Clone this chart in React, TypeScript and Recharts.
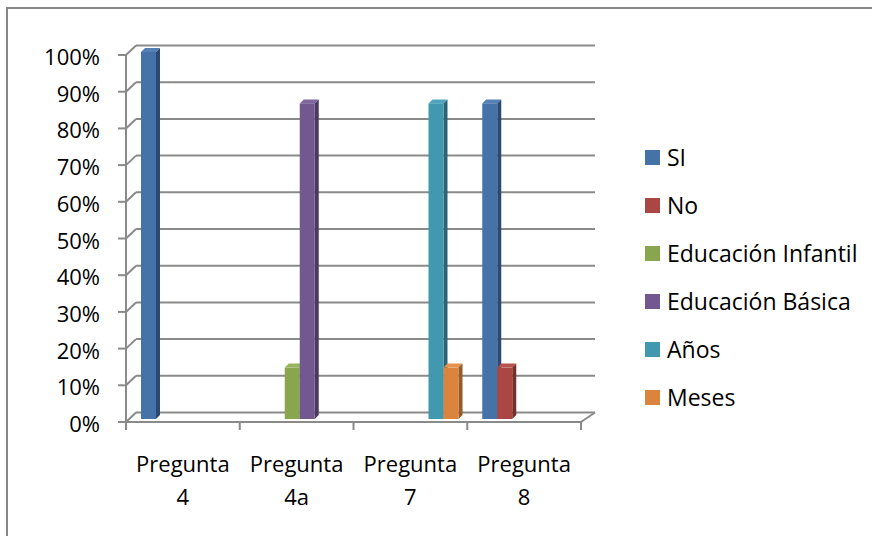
import { BarChart, Bar, XAxis, YAxis, CartesianGrid, Legend } from 'recharts'

const categories = ['Pregunta 4', 'Pregunta 4a', 'Pregunta 7', 'Pregunta 8']
const si = [1, null, null, 0.86]
const no = [null, null, null, 0.14]
const infantil = [null, 0.14, null, null]
const basica = [null, 0.86, null, null]
const anos = [null, null, 0.86, null]
const meses = [null, null, 0.14, null]
const yTicks = [0, 0.1, 0.2, 0.3, 0.4, 0.5, 0.6, 0.7, 0.8, 0.9, 1]

const series = [
  { key: 'si', name: 'SI', color: '#4572A7', side: '#2C4A6F', top: '#5580B6' },
  { key: 'no', name: 'No', color: '#AA4643', side: '#74302D', top: '#B9524F' },
  { key: 'infantil', name: 'Educación Infantil', color: '#89A54E', side: '#5E7235', top: '#97B35B' },
  { key: 'basica', name: 'Educación Básica', color: '#71588F', side: '#4A3A5F', top: '#7F669D' },
  { key: 'anos', name: 'Años', color: '#4198AF', side: '#2A6575', top: '#4EA6BD' },
  { key: 'meses', name: 'Meses', color: '#DB843D', side: '#985A28', top: '#E6914C' },
]

const data = categories.map((category, i) => ({
  category,
  si: si[i],
  no: no[i],
  infantil: infantil[i],
  basica: basica[i],
  anos: anos[i],
  meses: meses[i],
}))

const FONT = '"Open Sans", sans-serif'
const GRID = '#8a8a8a'
const PLOT_BOTTOM = 422
// 3D look: back wall sits up/right of the front axes
const WALL_DX = 10
const WALL_DX_RIGHT = 14
const WALL_DY = 9.5
const BAR_DX = 4
const BAR_DY = -3
const DEPTH = 4

const pct = (v: number) => `${Math.round(v * 100)}%`

function renderGridLine(p: any) {
  const { x1, x2, y1, index } = p
  const by = y1 - WALL_DY
  const floor = Math.abs(y1 - PLOT_BOTTOM) < 1
  const step = (x2 - x1) / categories.length
  return (
    <g key={`grid-${index}`}>
      <line x1={x1} y1={y1} x2={x1 + WALL_DX} y2={by} stroke={GRID} strokeWidth={2} />
      <line x1={x1 + WALL_DX} y1={by} x2={x2 + WALL_DX_RIGHT} y2={by} stroke={GRID} strokeWidth={2} />
      {floor && <line x1={x2} y1={y1} x2={x2 + WALL_DX_RIGHT} y2={by} stroke={GRID} strokeWidth={2} />}
      {floor &&
        [...categories, ''].map((_, i) => (
          <line key={i} x1={x1 + i * step} y1={y1} x2={x1 + i * step} y2={y1 + 8} stroke={GRID} strokeWidth={2} />
        ))}
    </g>
  )
}

function makeShape(s: typeof series[number]) {
  return (props: any) => {
    const { x, y, width, height } = props
    if (height == null || height <= 0 || width == null) return <g />
    const fx = x + BAR_DX
    const fy = y + BAR_DY
    return (
      <g>
        <polygon
          points={`${fx},${fy} ${fx + DEPTH},${fy - DEPTH} ${fx + width + DEPTH},${fy - DEPTH} ${fx + width},${fy}`}
          fill={s.top}
        />
        <polygon
          points={`${fx + width},${fy} ${fx + width + DEPTH},${fy - DEPTH} ${fx + width + DEPTH},${fy + height - DEPTH} ${fx + width},${fy + height}`}
          fill={s.side}
        />
        <rect x={fx} y={fy} width={width} height={height} fill={s.color} />
      </g>
    )
  }
}

function YTick({ x, y, payload }: any) {
  return (
    <text x={x} y={y} dy={10} textAnchor="end" fontFamily={FONT} fontSize={22} fill="#000">
      {pct(payload.value)}
    </text>
  )
}

function XTick({ x, y, payload }: any) {
  const label = String(payload.value)
  const cut = label.lastIndexOf(' ')
  return (
    <g>
      <text x={x} y={y + 50} textAnchor="middle" fontFamily={FONT} fontSize={22} fill="#000">
        {label.slice(0, cut)}
      </text>
      <text x={x} y={y + 83} textAnchor="middle" fontFamily={FONT} fontSize={22} fill="#000">
        {label.slice(cut + 1)}
      </text>
    </g>
  )
}

function LegendContent() {
  return (
    <div style={{ fontFamily: FONT, fontSize: 23, color: '#000' }}>
      {series.map(s => (
        <div key={s.key} style={{ height: 48, display: 'flex', alignItems: 'center' }}>
          <span style={{ width: 15, height: 15, background: s.color, marginRight: 7, flex: 'none' }} />
          <span style={{ whiteSpace: 'nowrap' }}>{s.name}</span>
        </div>
      ))}
    </div>
  )
}

export default function App() {
  return (
    <div style={{ position: 'absolute', left: 0, top: 0, width: 872, height: 536, overflow: 'hidden', background: '#fff' }}>
      <div style={{ position: 'absolute', left: 6, top: 7, width: 900, height: 600, border: '2px solid #878787' }} />
      <div style={{ position: 'absolute', left: 0, top: 0 }}>
        <BarChart
          width={872}
          height={536}
          data={data}
          margin={{ top: 55, right: 291, bottom: 0, left: 0 }}
          barCategoryGap={11}
          barGap={0}
        >
          <CartesianGrid vertical={false} horizontal={renderGridLine} />
          <XAxis
            dataKey="category"
            height={114}
            tickSize={0}
            tickMargin={0}
            tickLine={false}
            axisLine={{ stroke: GRID, strokeWidth: 2 }}
            tick={<XTick />}
            interval={0}
          />
          <YAxis
            width={126}
            domain={[0, 1]}
            ticks={yTicks}
            tickSize={8}
            tickMargin={18}
            axisLine={{ stroke: GRID, strokeWidth: 2 }}
            tickLine={{ stroke: GRID, strokeWidth: 2 }}
            tick={<YTick />}
            interval={0}
          />
          <Legend
            layout="vertical"
            align="center"
            verticalAlign="middle"
            wrapperStyle={{ left: 645, top: 133, width: 227, height: 288 }}
            content={<LegendContent />}
          />
          {series.map(s => (
            <Bar key={s.key} dataKey={s.key} name={s.name} fill={s.color} shape={makeShape(s)} isAnimationActive={false} />
          ))}
        </BarChart>
      </div>
    </div>
  )
}
